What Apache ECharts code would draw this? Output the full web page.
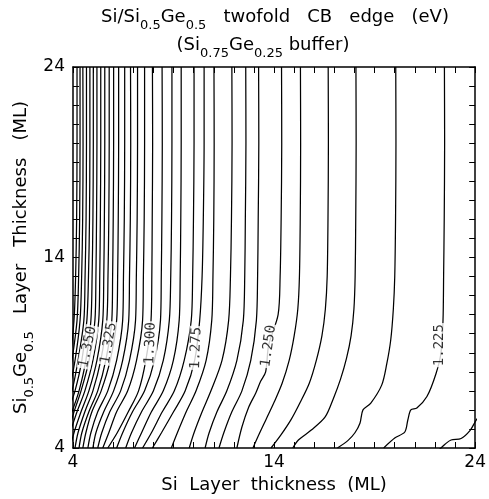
<!DOCTYPE html>
<html><head><meta charset="utf-8">
<script src="https://cdn.jsdelivr.net/npm/echarts@6/dist/echarts.min.js"></script>
<style>html,body{margin:0;padding:0;background:#fff}#c{width:489px;height:499px}</style>
</head><body><div id="c"></div>
<script>
// ---- axis ----
const xRange = [4, 24];
const yRange = [4, 24];
const tickLabels = [4, 14, 24];

// ---- contour lines: x positions at shared y levels (left, dense part) ----
const yLv = [24, 20, 16, 13, 10.7, 8.6, 7.0, 5.9, 4.8, 4.0];
const c1255 = [13.23, 13.24, 13.21, 13.18, 13.12, 12.84, 12.4, 11.9, 11.5, 11.26];
const c1260 = [12.59, 12.6, 12.57, 12.54, 12.47, 12.15, 11.65, 11.16, 10.77, 10.57];
const c1265 = [11.9, 11.91, 11.88, 11.83, 11.74, 11.41, 10.86, 10.42, 10.02, 9.78];
const c1270 = [11.01, 11.02, 11.0, 10.96, 10.9, 10.62, 10.12, 9.63, 9.19, 8.89];
const c1275 = [10.52, 10.52, 10.48, 10.42, 10.3, 10.05, 9.58, 9.0, 8.4, 7.95];
const c1280 = [10.02, 10.02, 9.99, 9.95, 9.88, 9.53, 9.04, 8.44, 7.9, 7.46];
const c1285 = [9.38, 9.38, 9.36, 9.33, 9.28, 8.99, 8.49, 7.9, 7.41, 7.06];
const c1290 = [8.92, 8.92, 8.9, 8.86, 8.79, 8.49, 8.0, 7.41, 6.91, 6.62];
const c1295 = [8.43, 8.44, 8.42, 8.39, 8.35, 8.05, 7.56, 6.96, 6.47, 6.17];
const c1300 = [7.95, 7.96, 7.94, 7.92, 7.88, 7.62, 7.26, 6.75, 6.2, 5.73];
const c1305 = [7.56, 7.56, 7.54, 7.5, 7.46, 7.16, 6.72, 6.17, 5.78, 5.48];
const c1310 = [7.21, 7.21, 7.19, 7.15, 7.11, 6.81, 6.37, 5.83, 5.43, 5.23];
const c1315 = [6.86, 6.87, 6.85, 6.81, 6.77, 6.47, 6.02, 5.53, 5.14, 4.99];
const c1320 = [6.57, 6.57, 6.55, 6.51, 6.47, 6.17, 5.73, 5.23, 4.89, 4.74];
const c1325 = [6.27, 6.27, 6.25, 6.22, 6.17, 5.85, 5.4, 4.94, 4.64, 4.49];
const c1330 = [6.02, 6.02, 6.0, 5.97, 5.93, 5.63, 5.23, 4.79, 4.44, 4.3];
const c1335 = [5.8, 5.8, 5.78, 5.74, 5.68, 5.38, 4.99, 4.59, 4.25, 4.1];
const c1340 = [5.58, 5.58, 5.56, 5.53, 5.48, 5.19, 4.79, 4.4, 4.05, 3.85];
const c1345 = [5.38, 5.38, 5.36, 5.33, 5.28, 4.99, 4.59, 4.2, 3.85, 3.6];
const c1350 = [5.19, 5.19, 5.17, 5.14, 5.09, 4.8, 4.4, 4.05, 3.75, 3.5];
const c1355 = [5.01, 5.01, 4.99, 4.95, 4.89, 4.64, 4.3, 3.95, 3.6, 3.4];
const c1360 = [4.84, 4.84, 4.82, 4.77, 4.69, 4.44, 4.1, 3.75, 3.5, 3.3];
const c1365 = [4.67, 4.67, 4.65, 4.6, 4.54, 4.25, 3.95, 3.6, 3.4, 3.2];
const c1370 = [4.49, 4.5, 4.48, 4.43, 4.35, 4.1, 3.8, 3.5, 3.3, 3.1];
const c1375 = [4.35, 4.35, 4.33, 4.28, 4.2, 3.95, 3.7, 3.4, 3.2, 3.0];
const c1380 = [4.2, 4.2, 4.18, 4.13, 4.05, 3.85, 3.6, 3.3, 3.1, 2.9];

// ---- contour lines: explicit [x, y] points (right, sparse part) ----
const p1220 = [[24.1, 5.55], [24, 5.38], [23.75, 4.93], [23.3, 4.5], [22.8, 4.42], [22.5, 4.2], [22.3, 4.0], [22.2, 3.9]];
const p1225 = [[22.47, 24], [22.48, 20], [22.46, 16], [22.43, 13], [22.4, 10.7], [22.3, 9.0], [22.05, 7.9], [21.6, 6.7], [21.1, 6.1], [20.8, 6.0], [20.65, 5.47], [20.5, 4.84], [20.0, 4.52], [19.45, 4.0]];
const p1230 = [[20.05, 24], [20.06, 20], [20.04, 16], [20.0, 13], [19.93, 11.3], [19.8, 9.67], [19.6, 8.4], [19.35, 7.3], [18.81, 6.36], [18.42, 6.0], [18.27, 5.3], [18.02, 4.8], [17.68, 4.4], [17.15, 4.0]];
const p1235 = [[18.07, 24], [18.08, 20], [18.06, 16], [18.03, 13], [17.97, 11.3], [17.83, 9.9], [17.6, 8.7], [17.3, 7.6], [16.95, 6.6], [16.54, 5.63], [15.85, 4.94], [15.21, 4.42], [14.93, 4.0]];
const p1240 = [[16.69, 24], [16.7, 20], [16.68, 16], [16.64, 13], [16.55, 11.3], [16.38, 9.9], [16.1, 8.6], [15.75, 7.4], [15.3, 6.4], [14.85, 5.5], [14.35, 4.7], [13.85, 4.0]];
const p1245 = [[15.31, 24], [15.32, 20], [15.3, 16], [15.26, 13], [15.18, 11.3], [15.0, 9.9], [14.75, 8.6], [14.4, 7.4], [14.0, 6.4], [13.6, 5.5], [13.2, 4.6], [12.95, 4.0]];
const p1250 = [[14.37, 24], [14.38, 20], [14.35, 16], [14.3, 13], [14.2, 11.0], [13.73, 9.4], [13.58, 8.0], [13.33, 7.5], [13.09, 6.89], [12.74, 6.15], [12.4, 5.1], [12.15, 4.0]];

// ---- contour labels ----
const labelText = ['1.350', '1.325', '1.300', '1.275', '1.250', '1.225'];
const labelX = [4.74, 5.78, 7.85, 10.12, 13.73, 22.22];
const labelY = [9.3, 9.5, 9.5, 9.25, 9.35, 9.4];
const labelTilt = [78, 80, 88, 88, 82, 90];

const gridLines = [c1255, c1260, c1265, c1270, c1275, c1280, c1285, c1290, c1295, c1300,
  c1305, c1310, c1315, c1320, c1325, c1330, c1335, c1340, c1345, c1350, c1355, c1360,
  c1365, c1370, c1375, c1380];
const pointLines = [p1220, p1225, p1230, p1235, p1240, p1245, p1250];

const allLines = pointLines.concat(gridLines.map(xs => xs.map((x, i) => [x, yLv[i]])));

const FONT = 'DejaVu Sans';
const lineSeries = allLines.map(d => ({
  type: 'line', data: d, showSymbol: false, smooth: 0.3, clip: true, silent: true,
  lineStyle: { color: '#000', width: 1.25 }, z: 2
}));

const labelSeries = {
  type: 'scatter', symbolSize: 0, z: 5, silent: true,
  data: labelText.map((t, i) => ({ value: [labelX[i], labelY[i], t], label: { rotate: labelTilt[i] } })),
  label: {
    show: true, position: 'inside', formatter: p => p.data.value[2],
    fontFamily: 'DejaVu Sans Mono', fontSize: 14, color: '#000',
    backgroundColor: '#fff', padding: [0, 1]
  }
};

const richSub = {
  n: { fontFamily: FONT, fontSize: 18, fontWeight: 'normal', color: '#000', verticalAlign: 'bottom', padding: [0, 0, 6, 0] },
  s: { fontFamily: FONT, fontSize: 13, fontWeight: 'normal', color: '#000', verticalAlign: 'bottom' }
};

const axisCommon = {
  type: 'value', interval: 1,
  axisLine: { show: true, lineStyle: { color: '#000', width: 1.5 } },
  axisTick: { show: true, inside: true, length: 6, lineStyle: { color: '#000', width: 1 } },
  splitLine: { show: false }
};

const chart = echarts.init(document.getElementById('c'), null, { renderer: 'canvas' });
chart.setOption({
  animation: false,
  backgroundColor: '#fff',
  title: [
    {
      text: '{n|Si/Si}{s|0.5}{n|Ge}{s|0.5}{n|   twofold   CB   edge   (eV)}',
      left: 275, textAlign: 'center', top: 8, padding: 0,
      textStyle: { fontWeight: 'normal', rich: richSub }
    },
    {
      text: '{n|(Si}{s|0.75}{n|Ge}{s|0.25}{n| buffer)}',
      left: 263, textAlign: 'center', top: 36, padding: 0,
      textStyle: { fontWeight: 'normal', rich: richSub }
    }
  ],
  grid: { left: 73, right: 11, top: 67, bottom: 51, containLabel: false },
  xAxis: [
    Object.assign({}, axisCommon, {
      min: xRange[0], max: xRange[1], position: 'bottom',
      axisLabel: { formatter: v => tickLabels.includes(v) ? String(v) : '', color: '#000', fontFamily: FONT, fontSize: 17, margin: 6 },
      name: 'Si  Layer  thickness  (ML)', nameLocation: 'middle', nameGap: 28, nameMoveOverlap: false,
      nameTextStyle: { fontFamily: FONT, fontSize: 18, color: '#000' }
    }),
    Object.assign({}, axisCommon, {
      min: xRange[0], max: xRange[1], position: 'top', axisLabel: { show: false }
    })
  ],
  yAxis: [
    Object.assign({}, axisCommon, {
      min: yRange[0], max: yRange[1], position: 'left',
      axisLabel: { formatter: v => tickLabels.includes(v) ? String(v) : '', color: '#000', fontFamily: FONT, fontSize: 17, margin: 8 },
      name: '{n|Si}{s|0.5}{n|Ge}{s|0.5}{n|   Layer   Thickness   (ML)}', nameLocation: 'middle', nameGap: 37, nameRotate: 90, nameMoveOverlap: false,
      nameTextStyle: { rich: richSub }
    }),
    Object.assign({}, axisCommon, {
      min: yRange[0], max: yRange[1], position: 'right', axisLabel: { show: false }
    })
  ],
  series: lineSeries.concat([labelSeries])
});
</script>
</body></html>
